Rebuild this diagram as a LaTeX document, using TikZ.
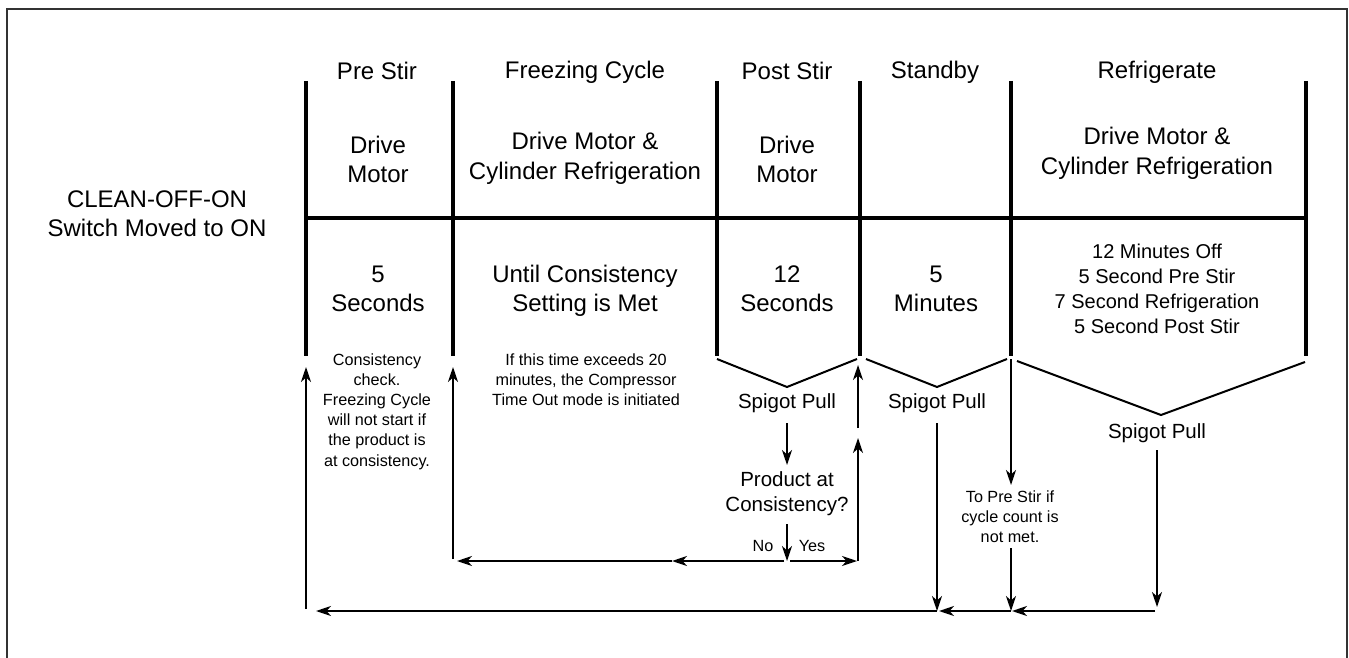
\documentclass[tikz,border=0pt]{standalone}
\usepackage{fontspec}
\setmainfont{Liberation Sans}
\usetikzlibrary{arrows.meta}
\begin{document}
\begin{tikzpicture}[x=1pt,y=-1pt,
  divider/.style={line width=4pt},
  thinline/.style={line width=2pt},
  flow/.style={line width=2pt, -{Stealth[length=15pt,width=10pt,inset=4.5pt]}},
  big/.style={font=\fontsize{24}{29.5}\selectfont, align=center, anchor=base, inner sep=0pt},
  mid/.style={font=\fontsize{20.5}{25}\selectfont, align=center, anchor=base, inner sep=0pt},
  listtxt/.style={font=\fontsize{20}{25}\selectfont, align=center, anchor=base, inner sep=0pt},
  note/.style={font=\fontsize{16.2}{20.2}\selectfont, align=center, anchor=base, inner sep=0pt},
]
\useasboundingbox (0,0) rectangle (1349,658);
% frame
\draw[line width=2pt, black!80] (7,662) -- (7,9) -- (1347,9) -- (1347,662);

% dividers
\coordinate (Atop) at (306,81);  \coordinate (Abot) at (306,356);
\coordinate (Btop) at (453,81);  \coordinate (Bbot) at (453,356);
\coordinate (Ctop) at (717,81);  \coordinate (Cbot) at (717,356);
\coordinate (Dtop) at (860,81);  \coordinate (Dbot) at (860,356);
\coordinate (Etop) at (1011,81); \coordinate (Ebot) at (1011,356);
\coordinate (Ftop) at (1306,81); \coordinate (Fbot) at (1306,356);
\coordinate (Hl) at (306,218);   \coordinate (Hr) at (1306,218);
\foreach \c in {A,B,C,D,E,F} {\draw[divider] (\c top) -- (\c bot);}
\draw[divider] (Hl) -- (Hr);

% headers (anchor = baseline of last line)
\node[big] (hPre) at (377,80) {Pre Stir};
\node[big] (hFrz) at (585,78.5) {Freezing Cycle};
\node[big] (hPost) at (787,80) {Post Stir};
\node[big] (hStb) at (935,78.5) {Standby};
\node[big] (hRef) at (1157,78.5) {Refrigerate};

% activities
\node[big] (aPre) at (378,182.5) {Drive\\Motor};
\node[big] (aFrz) at (585,179) {Drive Motor \&\\Cylinder Refrigeration};
\node[big] (aPost) at (787,182.5) {Drive\\Motor};
\node[big] (aRef) at (1157,174) {Drive Motor \&\\Cylinder Refrigeration};
\node[big] (sw) at (157,236.5) {CLEAN-OFF-ON\\Switch Moved to ON};

% durations
\node[big] (dPre) at (378,311.5) {5\\Seconds};
\node[big] (dFrz) at (585,311.5) {Until Consistency\\Setting is Met};
\node[big] (dPost) at (787,311.5) {12\\Seconds};
\node[big] (dStb) at (936,311.5) {5\\Minutes};
\node[listtxt] (dRef) at (1157,333.3) {12 Minutes Off\\5 Second Pre Stir\\7 Second Refrigeration\\5 Second Post Stir};

% notes
\node[note] (nPre) at (377,466) {Consistency\\check.\\Freezing Cycle\\will not start if\\the product is\\at consistency.};
\node[note] (nFrz) at (586,405.4) {If this time exceeds 20\\minutes, the Compressor\\Time Out mode is initiated};
\node[note] (toPre) at (1010,542.7) {To Pre Stir if\\cycle count is\\not met.};

% spigot V shapes
\coordinate (v1a) at (717,359); \coordinate (v1b) at (787,387); \coordinate (v1c) at (857,359);
\coordinate (v2a) at (866,359); \coordinate (v2b) at (937,387); \coordinate (v2c) at (1007,359);
\coordinate (v3a) at (1017,361); \coordinate (v3b) at (1161,415); \coordinate (v3c) at (1305,362);
\draw[thinline] (v1a) -- (v1b) -- (v1c);
\draw[thinline] (v2a) -- (v2b) -- (v2c);
\draw[thinline] (v3a) -- (v3b) -- (v3c);

\node[mid] (spPost) at (787,408.3) {Spigot Pull};
\node[mid] (spStb) at (937,408.3) {Spigot Pull};
\node[mid] (spRef) at (1157,438.3) {Spigot Pull};
\node[mid] (q) at (787,511.7) {Product at\\Consistency?};
\node[note] (no) at (763,551.7) {No};
\node[note] (yes) at (812,551.7) {Yes};

% connector points
\coordinate (s1) at (787,423);   \coordinate (s1e) at (787,465);
\coordinate (q1) at (787,524);   \coordinate (split) at (787,561);
\coordinate (noS) at (784,561);  \coordinate (yesS) at (790,561);
\coordinate (noMid) at (672,561); \coordinate (noEnd) at (457,561);
\coordinate (yesEnd) at (857,561); \coordinate (yc) at (858,561);
\coordinate (up1e) at (858,438); \coordinate (up2s) at (858,428); \coordinate (up2e) at (858,365);
\coordinate (fB) at (453,559);   \coordinate (fBe) at (453,367);
\coordinate (st1) at (937,423);  \coordinate (stB) at (937,611);
\coordinate (r1) at (1011,359);  \coordinate (r1e) at (1011,485);
\coordinate (r2) at (1011,548);  \coordinate (rB) at (1011,611);
\coordinate (rf1) at (1157,450); \coordinate (rf1e) at (1157,607);
\coordinate (rfB) at (1155,611);
\coordinate (bEnd) at (316,611);
\coordinate (pA) at (306,609);   \coordinate (pAe) at (306,367);

\draw[flow] (s1) -- (s1e);
\draw[flow] (q1) -- (split);
\draw[flow] (noS) -- (noMid);
\draw[flow] (noMid) -- (noEnd);
\draw[flow] (yesS) -- (yesEnd);
\draw[flow] (yc) -- (up1e);
\draw[flow] (up2s) -- (up2e);
\draw[flow] (fB) -- (fBe);
\draw[flow] (st1) -- (stB);
\draw[flow] (r1) -- (r1e);
\draw[flow] (r2) -- (rB);
\draw[flow] (rf1) -- (rf1e);
\draw[flow] (rfB) -- ([xshift=1pt]rB);
\draw[flow] (rB) -- ([xshift=2pt]stB);
\draw[flow] (stB) -- (bEnd);
\draw[flow] (pA) -- (pAe);
\end{tikzpicture}
\end{document}
